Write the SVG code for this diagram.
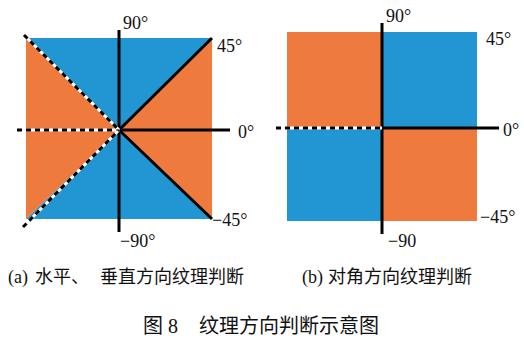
<svg xmlns="http://www.w3.org/2000/svg" width="524" height="347" viewBox="0 0 524 347">
<style>
.blue{fill:#2196d3}
.orange{fill:#ee7a3e}
.solid{stroke:#000;stroke-width:3;fill:none}
.under{stroke:#fff;stroke-width:3;fill:none}
.dash{stroke:#000;stroke-width:3;fill:none;stroke-dasharray:5 4}
.lbl{font-family:"Liberation Serif","Times New Roman",serif;font-size:18px;fill:#111}
.cap{font-family:"Liberation Serif","Noto Sans CJK SC",serif;font-size:18px;fill:#111}
.title{font-family:"Liberation Serif","Noto Sans CJK SC",serif;font-size:20px;fill:#111}
</style>
<rect x="0" y="0" width="524" height="347" fill="#fff"/>
<g id="panel-a">
<polygon class="blue" points="26,38 212,38 119,130"/>
<polygon class="orange" points="212,38 212,219 119,130"/>
<polygon class="blue" points="212,219 26,219 119,130"/>
<polygon class="orange" points="26,219 26,38 119,130"/>
</g>
<g id="panel-b">
<rect class="orange" x="287" y="32" width="95" height="96"/>
<rect class="blue" x="382" y="32" width="95" height="96"/>
<rect class="blue" x="287" y="128" width="95" height="93"/>
<rect class="orange" x="382" y="128" width="95" height="93"/>
</g>
<g id="connectors">
<line class="solid" x1="119" y1="30" x2="119" y2="232"/>
<line class="solid" x1="119" y1="130" x2="230" y2="130"/>
<line class="solid" x1="119" y1="130" x2="212" y2="38"/>
<line class="solid" x1="119" y1="130" x2="212" y2="219"/>
<line class="under" x1="17" y1="130" x2="119" y2="130"/>
<line class="dash" x1="17" y1="130" x2="119" y2="130"/>
<line class="under" x1="24" y1="35" x2="119" y2="130"/>
<line class="dash" x1="24" y1="35" x2="119" y2="130"/>
<line class="under" x1="23" y1="227" x2="119" y2="130"/>
<line class="dash" x1="23" y1="227" x2="119" y2="130"/>
<line class="solid" x1="382" y1="23" x2="382" y2="234"/>
<line class="solid" x1="382" y1="128" x2="499" y2="128"/>
<line class="under" x1="276" y1="128" x2="382" y2="128"/>
<line class="dash" x1="276" y1="128" x2="382" y2="128"/>
</g>
<g id="labels-a">
<text class="lbl" x="123" y="29">90°</text>
<text class="lbl" x="217" y="52">45°</text>
<text class="lbl" x="238" y="138">0°</text>
<text class="lbl" x="212" y="226">−45°</text>
<text class="lbl" x="120" y="247">−90°</text>
</g>
<g id="labels-b">
<text class="lbl" x="386" y="22">90°</text>
<text class="lbl" x="486" y="45">45°</text>
<text class="lbl" x="503" y="136">0°</text>
<text class="lbl" x="480" y="223">−45°</text>
<text class="lbl" x="388" y="247">−90</text>
</g>
<g id="captions">
<text class="cap" x="8" y="283">(a) <tspan x="35">水平、</tspan><tspan x="100">垂直方向纹理判断</tspan></text>
<text class="cap" x="302" y="283">(b) <tspan x="328">对角方向纹理判断</tspan></text>
<text class="title" x="143" y="333">图 8<tspan x="199">纹理方向判断示意图</tspan></text>
</g>
</svg>
